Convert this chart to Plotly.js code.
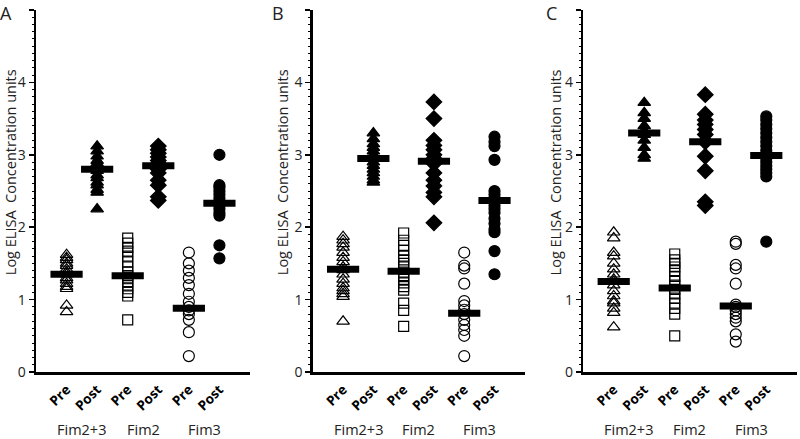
<!DOCTYPE html>
<html>
<head>
<meta charset="utf-8">
<script src="https://cdn.plot.ly/plotly-3.0.1.min.js"></script>
<style>html,body{margin:0;padding:0;background:#fff;}#chart{width:800px;height:439px;}</style>
</head>
<body>
<div id="chart"></div>
<script>
// ---- Data ----
const categories = ['Pre', 'Post', 'Pre', 'Post', 'Pre', 'Post'];
const groups = ['Fim2+3', 'Fim2', 'Fim3'];
const panelLetters = ['A', 'B', 'C'];
const yTickLabels = ['0', '1', '2', '3', '4', ''];

// Panel A
const A_pre23  = [1.62, 1.58, 1.55, 1.5, 1.47, 1.42, 1.38, 1.35, 1.3, 1.27, 1.22, 1.18, 1.15, 0.92, 0.83];
const A_post23 = [3.12, 3.05, 2.98, 2.92, 2.88, 2.82, 2.78, 2.72, 2.68, 2.62, 2.58, 2.52, 2.48, 2.25];
const A_pre2   = [1.85, 1.78, 1.72, 1.67, 1.6, 1.52, 1.45, 1.38, 1.33, 1.3, 1.25, 1.2, 1.15, 1.1, 1.05, 0.72];
const A_post2  = [3.12, 3.07, 3.02, 2.97, 2.92, 2.88, 2.85, 2.8, 2.75, 2.65, 2.58, 2.42, 2.37];
const A_pre3   = [1.65, 1.5, 1.4, 1.3, 1.2, 1.08, 0.97, 0.9, 0.85, 0.8, 0.72, 0.55, 0.22];
const A_post3  = [3.0, 2.58, 2.55, 2.5, 2.45, 2.4, 2.35, 2.3, 2.25, 2.2, 2.16, 1.75, 1.57];
const A_median = [1.35, 2.8, 1.33, 2.85, 0.88, 2.33];

// Panel B
const B_pre23  = [1.87, 1.82, 1.77, 1.72, 1.65, 1.58, 1.52, 1.45, 1.41, 1.35, 1.28, 1.22, 1.16, 1.12, 1.08, 1.04, 0.7];
const B_post23 = [3.3, 3.22, 3.15, 3.1, 3.05, 3.0, 2.95, 2.9, 2.85, 2.8, 2.75, 2.7, 2.65, 2.62];
const B_pre2   = [1.92, 1.82, 1.75, 1.68, 1.6, 1.55, 1.5, 1.45, 1.38, 1.33, 1.28, 1.23, 1.18, 1.13, 0.95, 0.85, 0.63];
const B_post2  = [3.73, 3.5, 3.2, 3.13, 3.07, 3.0, 2.95, 2.88, 2.75, 2.65, 2.57, 2.48, 2.42, 2.06];
const B_pre3   = [1.65, 1.47, 1.43, 1.22, 0.98, 0.92, 0.86, 0.8, 0.72, 0.65, 0.58, 0.5, 0.22];
const B_post3  = [3.25, 3.18, 3.12, 2.93, 2.5, 2.45, 2.4, 2.35, 2.3, 2.25, 2.2, 2.12, 2.05, 1.97, 1.93, 1.67, 1.35];
const B_median = [1.42, 2.95, 1.39, 2.91, 0.81, 2.37];

// Panel C
const C_pre23  = [1.93, 1.85, 1.65, 1.6, 1.5, 1.42, 1.35, 1.28, 1.25, 1.2, 1.12, 1.05, 0.98, 0.95, 0.88, 0.82, 0.62];
const C_post23 = [3.72, 3.58, 3.5, 3.4, 3.33, 3.28, 3.2, 3.1, 3.0, 2.95];
const C_pre2   = [1.63, 1.55, 1.5, 1.45, 1.4, 1.32, 1.25, 1.2, 1.14, 1.08, 1.02, 0.95, 0.88, 0.8, 0.5];
const C_post2  = [3.83, 3.56, 3.48, 3.42, 3.35, 3.28, 3.18, 2.98, 2.78, 2.35, 2.3];
const C_pre3   = [1.8, 1.77, 1.48, 1.43, 1.22, 0.93, 0.9, 0.85, 0.8, 0.75, 0.7, 0.52, 0.42];
const C_post3  = [3.53, 3.48, 3.42, 3.36, 3.3, 3.24, 3.18, 3.12, 3.06, 3.0, 2.95, 2.9, 2.85, 2.8, 2.75, 2.7, 1.8];
const C_median = [1.25, 3.30, 1.16, 3.18, 0.91, 2.99];

const panelSeries = [
  [A_pre23, A_post23, A_pre2, A_post2, A_pre3, A_post3],
  [B_pre23, B_post23, B_pre2, B_post2, B_pre3, B_post3],
  [C_pre23, C_post23, C_pre2, C_post2, C_pre3, C_post3]
];
const panelMedians = [A_median, B_median, C_median];

// ---- Styles ----
const FONT = 'Open Sans, Noto Sans, sans-serif';
const symbols = ['triangle-up-open', 'triangle-up', 'square-open', 'diamond', 'circle-open', 'circle'];
const sizes = [11, 11, 10, 12, 11, 11];
const domains = [[0.045, 0.3125], [0.391, 0.656], [0.729, 0.996]];
const titleX = [0.0125, 0.3525, 0.694];
const letterX = [0.008, 0.347, 0.689];

const traces = [];
const layout = {
  width: 800, height: 439,
  margin: {l: 0, r: 0, t: 10, b: 67},
  paper_bgcolor: '#fff', plot_bgcolor: '#fff',
  showlegend: false,
  font: {family: FONT, color: '#222'},
  annotations: []
};

panelSeries.forEach((series, p) => {
  const xa = p === 0 ? 'x' : 'x' + (p + 1);
  const ya = p === 0 ? 'y' : 'y' + (p + 1);
  series.forEach((vals, i) => {
    traces.push({
      type: 'scatter', mode: 'markers',
      x: vals.map(() => i + 1), y: vals,
      xaxis: xa, yaxis: ya,
      marker: {symbol: symbols[i], size: sizes[i], color: '#000',
               line: {color: '#000', width: 1.2}},
      hoverinfo: 'y'
    });
  });
  traces.push({
    type: 'scatter', mode: 'markers',
    x: panelMedians[p].map((v, i) => i + 1), y: panelMedians[p],
    xaxis: xa, yaxis: ya,
    marker: {symbol: 'line-ew', size: 23, color: '#000', line: {color: '#000', width: 7}},
    hoverinfo: 'y'
  });

  const sfx = p === 0 ? '' : String(p + 1);
  layout['xaxis' + sfx] = {
    domain: domains[p], range: [0, 7], anchor: ya,
    showline: true, linewidth: 2.5, linecolor: '#000',
    showgrid: false, zeroline: false,
    tickmode: 'array', tickvals: [1, 2, 3, 4, 5, 6], ticktext: categories,
    ticks: '', tickangle: -45, ticklabelstandoff: 2,
    tickfont: {family: FONT, size: 13.5, color: '#000', weight: 'bold'},
    fixedrange: true
  };
  layout['yaxis' + sfx] = {
    domain: [0, 1], range: [0, 5], anchor: xa,
    showline: true, linewidth: 2.5, linecolor: '#000',
    showgrid: false, zeroline: false,
    tickmode: 'array', tickvals: [0, 1, 2, 3, 4, 5], ticktext: yTickLabels,
    ticks: 'outside', ticklen: 5, tickwidth: 1.5, tickcolor: '#000',
    minor: {tickmode: 'linear', tick0: 0, dtick: 0.1, ticks: 'outside', ticklen: 2, tickwidth: 1, tickcolor: '#000'},
    tickfont: {family: FONT, size: 14, color: '#222'},
    fixedrange: true
  };

  groups.forEach((g, gi) => {
    layout.annotations.push({
      xref: xa, yref: 'paper', x: gi * 2 + 1.5, y: -0.16,
      text: g, showarrow: false, xanchor: 'center', yanchor: 'middle',
      font: {family: FONT, size: 14.5, color: '#222'}
    });
  });
  layout.annotations.push({
    xref: 'paper', yref: 'paper', x: titleX[p], y: 0.552,
    text: 'Log ELISA\u00a0 Concentration units', textangle: -90, showarrow: false,
    xanchor: 'center', yanchor: 'middle',
    font: {family: FONT, size: 14.5, color: '#222'}
  });
  layout.annotations.push({
    xref: 'paper', yref: 'paper', x: letterX[p], y: 1.0276,
    text: panelLetters[p], showarrow: false, xanchor: 'center', yanchor: 'top',
    borderpad: 0,
    font: {family: FONT, size: 18, color: '#222'}
  });
});

Plotly.newPlot('chart', traces, layout, {displayModeBar: false, staticPlot: true});
</script>
</body>
</html>
